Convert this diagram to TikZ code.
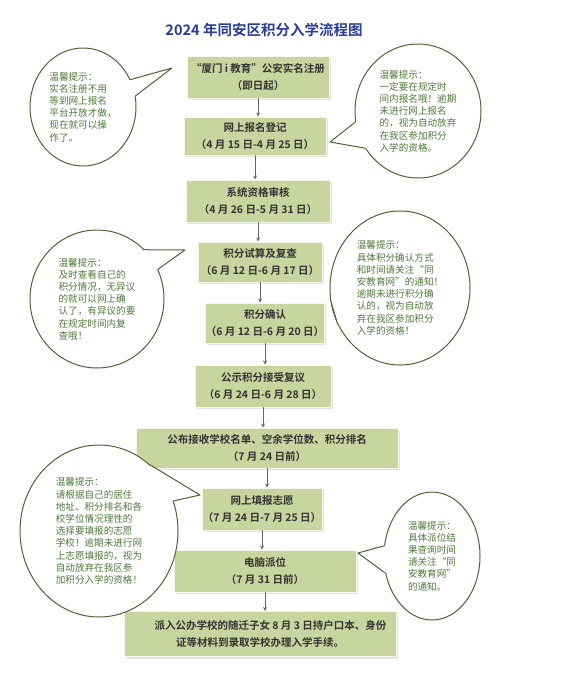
\documentclass[tikz,border=0pt]{standalone}
\usepackage{fontspec}
\setmainfont{Noto Sans CJK SC}[BoldFont={Noto Sans CJK SC Bold}]
\usetikzlibrary{shapes.geometric,shadows,calc}
\definecolor{boxgreen}{HTML}{C8D59E}
\definecolor{tipgreen}{HTML}{4E7A3A}
\definecolor{lingreen}{HTML}{4A6634}
\definecolor{titleblue}{HTML}{2A3C9C}
\definecolor{arrgray}{HTML}{5E6B58}
\begin{document}
\begin{tikzpicture}[x=1pt,y=-1pt,>=stealth,line cap=round,line join=round,
  stepbox/.style={fill=boxgreen,draw=white!80!boxgreen,line width=1pt,
    drop shadow={shadow xshift=2pt,shadow yshift=-2pt,fill=black!22},
    align=center,inner sep=0pt,font=\bfseries\fontsize{10.5}{17}\selectfont,text=black!80},
  bubble/.style={ellipse,draw=lingreen,line width=1pt,fill=white,inner sep=0pt,
    align=left,text=tipgreen,font=\fontsize{9.6}{12.2}\selectfont},
  arr/.style={->,draw=arrgray,line width=.8pt}]
 \useasboundingbox (0,0) rectangle (564,691);
 \node[font=\bfseries\fontsize{14.5}{17}\selectfont,text=titleblue] (title) at (264,30) {2024 年同安区积分入学流程图};
 % flow boxes
 \node[stepbox,minimum width=142,minimum height=42] (reg)   at (258,77)  {“厦门 i 教育”公安实名注册\\（即日起）};
 \node[stepbox,minimum width=142,minimum height=38] (sign)  at (255,136) {网上报名登记\\（4 月 15 日-4 月 25 日）};
 \node[stepbox,minimum width=144,minimum height=42] (check) at (258,201) {系统资格审核\\（4 月 26 日-5 月 31 日）};
 \node[stepbox,minimum width=124,minimum height=40] (calc)  at (260,262) {积分试算及复查\\（6 月 12 日-6 月 17 日）};
 \node[stepbox,minimum width=116,minimum height=40] (conf)  at (265,323) {积分确认\\（6 月 12 日-6 月 20 日）};
 \node[stepbox,minimum width=136,minimum height=42] (pub)   at (263,386) {公示积分接受复议\\（6 月 24 日-6 月 28 日）};
 \node[stepbox,minimum width=262,minimum height=40] (list)  at (267,448) {公布接收学校名单、空余学位数、积分排名\\（7 月 24 日前）};
 \node[stepbox,minimum width=120,minimum height=42] (wish)  at (262,509) {网上填报志愿\\（7 月 24 日-7 月 25 日）};
 \node[stepbox,minimum width=182,minimum height=42] (lot)   at (265,571) {电脑派位\\（7 月 31 日前）};
 \node[stepbox,minimum width=272,minimum height=45] (enrol) at (260,634) {\hspace*{2em}派入公办学校的随迁子女 8 月 3 日持户口本、身份\\证等材料到录取学校办理入学手续。};
 \foreach \a/\b in {reg/sign,sign/check,check/calc,calc/conf,conf/pub,pub/list,list/wish,wish/lot,lot/enrol}
   \draw[arr] (\a.south) -- (\a.south |- \b.north);
 % tips
 \node[bubble,minimum width=106,minimum height=118] (tipA) at (83,107)
   {温馨提示：\\实名注册不用\\等到网上报名\\平台开放才做，\\现在就可以操\\作了。};
 \node[bubble,minimum width=126,minimum height=134] (tipB) at (418,111)
   {温馨提示：\\一定要在规定时\\间内报名哦！逾期\\未进行网上报名\\的，视为自动放弃\\在我区参加积分\\入学的资格。};
 \node[bubble,minimum width=134,minimum height=138] (tipC) at (97,299)
   {温馨提示：\\及时查看自己的\\积分情况，无异议\\的就可以网上确\\认了，有异议的要\\在规定时间内复\\查哦！};
 \node[bubble,minimum width=140,minimum height=154] (tipD) at (400,288)
   {温馨提示：\\具体积分确认方式\\和时间请关注“同\\安教育网”的通知！\\逾期未进行积分确\\认的，视为自动放\\弃在我区参加积分\\入学的资格！};
 \node[bubble,minimum width=158,minimum height=172] (tipE) at (99,531)
   {温馨提示：\\请根据自己的居住\\地址、积分排名和各\\校学位情况理性的\\选择要填报的志愿\\学校！逾期未进行网\\上志愿填报的，视为\\自动放弃在我区参\\加积分入学的资格！};
 \node[bubble,minimum width=96,minimum height=128] (tipF) at (432,556)
   {温馨提示：\\具体派位结\\果查询时间\\请关注“同\\安教育网”\\的通知。};
 \coordinate (pA) at (172,68);
 \coordinate (pB) at (330,142);
 \coordinate (pC) at (185,250);
 \coordinate (pD) at (332,305);
 \coordinate (pE) at (200,495);
 \coordinate (pF) at (358,553);
 \foreach \t/\p/\u/\l in {tipA/pA/30/12,tipB/pB/190/215,tipC/pC/46/26,tipD/pD/188/210,tipE/pE/52/22,tipF/pF/168/200}{
   \fill[white] (\t.\u) -- (\p) -- (\t.\l) -- ($(\t.\l)!.1!(\t.center)$) -- ($(\t.\u)!.1!(\t.center)$) -- cycle;
   \draw[lingreen,line width=1pt] (\t.\u) -- (\p) -- (\t.\l);
 }
\end{tikzpicture}
\end{document}
